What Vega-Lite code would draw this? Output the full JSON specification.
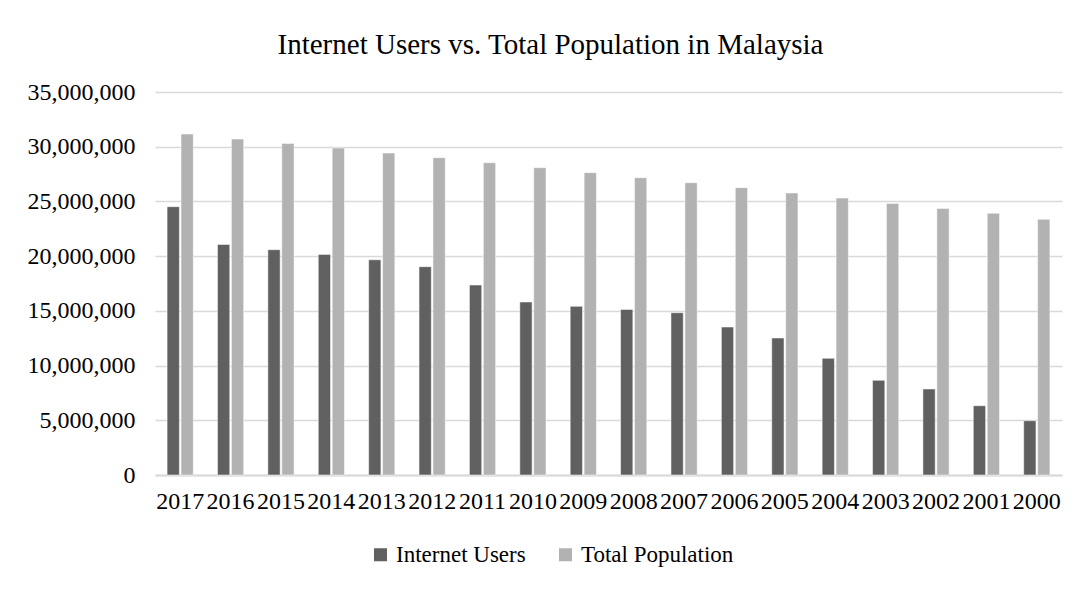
{
  "$schema": "https://vega.github.io/schema/vega-lite/v6.json",
  "width": 907,
  "height": 383,
  "autosize": {"type": "none"},
  "padding": {"left": 155, "top": 92, "right": 21, "bottom": 114},
  "background": "white",
  "title": {
    "text": "Internet Users vs. Total Population in Malaysia",
    "font": "Liberation Serif",
    "fontSize": 29,
    "fontWeight": "normal",
    "color": "#000000",
    "anchor": "middle",
    "baseline": "alphabetic",
    "offset": -3,
    "dx": -58
  },
  "data": {
    "values": [
      {"year": "2017", "series": "Internet Users", "value": 24520000},
      {"year": "2017", "series": "Total Population", "value": 31160000},
      {"year": "2016", "series": "Internet Users", "value": 21070000},
      {"year": "2016", "series": "Total Population", "value": 30700000},
      {"year": "2015", "series": "Internet Users", "value": 20590000},
      {"year": "2015", "series": "Total Population", "value": 30300000},
      {"year": "2014", "series": "Internet Users", "value": 20160000},
      {"year": "2014", "series": "Total Population", "value": 29880000},
      {"year": "2013", "series": "Internet Users", "value": 19670000},
      {"year": "2013", "series": "Total Population", "value": 29420000},
      {"year": "2012", "series": "Internet Users", "value": 19040000},
      {"year": "2012", "series": "Total Population", "value": 29000000},
      {"year": "2011", "series": "Internet Users", "value": 17360000},
      {"year": "2011", "series": "Total Population", "value": 28540000},
      {"year": "2010", "series": "Internet Users", "value": 15810000},
      {"year": "2010", "series": "Total Population", "value": 28080000},
      {"year": "2009", "series": "Internet Users", "value": 15410000},
      {"year": "2009", "series": "Total Population", "value": 27630000},
      {"year": "2008", "series": "Internet Users", "value": 15130000},
      {"year": "2008", "series": "Total Population", "value": 27170000},
      {"year": "2007", "series": "Internet Users", "value": 14830000},
      {"year": "2007", "series": "Total Population", "value": 26710000},
      {"year": "2006", "series": "Internet Users", "value": 13520000},
      {"year": "2006", "series": "Total Population", "value": 26260000},
      {"year": "2005", "series": "Internet Users", "value": 12520000},
      {"year": "2005", "series": "Total Population", "value": 25770000},
      {"year": "2004", "series": "Internet Users", "value": 10660000},
      {"year": "2004", "series": "Total Population", "value": 25310000},
      {"year": "2003", "series": "Internet Users", "value": 8650000},
      {"year": "2003", "series": "Total Population", "value": 24820000},
      {"year": "2002", "series": "Internet Users", "value": 7860000},
      {"year": "2002", "series": "Total Population", "value": 24360000},
      {"year": "2001", "series": "Internet Users", "value": 6330000},
      {"year": "2001", "series": "Total Population", "value": 23910000},
      {"year": "2000", "series": "Internet Users", "value": 4960000},
      {"year": "2000", "series": "Total Population", "value": 23360000}
    ]
  },
  "mark": {"type": "bar", "stroke": "#ffffff", "strokeWidth": 0.5},
  "encoding": {
    "x": {
      "field": "year",
      "type": "ordinal",
      "sort": "descending",
      "scale": {"paddingInner": 0.48, "paddingOuter": 0.24},
      "axis": {
        "title": null,
        "labelAngle": 0,
        "labelFont": "Liberation Serif",
        "labelFontSize": 24,
        "labelColor": "#000000",
        "labelPadding": 14,
        "ticks": false,
        "domainColor": "#d9d9d9",
        "domainWidth": 2,
        "labelOverlap": false
      }
    },
    "xOffset": {
      "field": "series",
      "type": "nominal",
      "scale": {"paddingInner": 0.12}
    },
    "y": {
      "field": "value",
      "type": "quantitative",
      "scale": {"domain": [0, 35000000]},
      "axis": {
        "title": null,
        "values": [0, 5000000, 10000000, 15000000, 20000000, 25000000, 30000000, 35000000],
        "format": ",d",
        "labelFont": "Liberation Serif",
        "labelFontSize": 24,
        "labelColor": "#000000",
        "labelPadding": 20,
        "ticks": false,
        "domain": false,
        "gridColor": "#d9d9d9",
        "gridWidth": 1.5
      }
    },
    "color": {
      "field": "series",
      "type": "nominal",
      "scale": {"domain": ["Internet Users", "Total Population"], "range": ["#606060", "#b2b2b2"]},
      "legend": {
        "title": null,
        "orient": "none",
        "direction": "horizontal",
        "legendX": 214,
        "legendY": 451,
        "symbolType": "square",
        "symbolSize": 169,
        "symbolStrokeWidth": 0,
        "labelFont": "Liberation Serif",
        "labelFontSize": 23,
        "labelColor": "#000000",
        "labelOffset": 4,
        "columnPadding": 28,
        "labelLimit": 300
      }
    }
  },
  "config": {
    "view": {"stroke": null}
  }
}
